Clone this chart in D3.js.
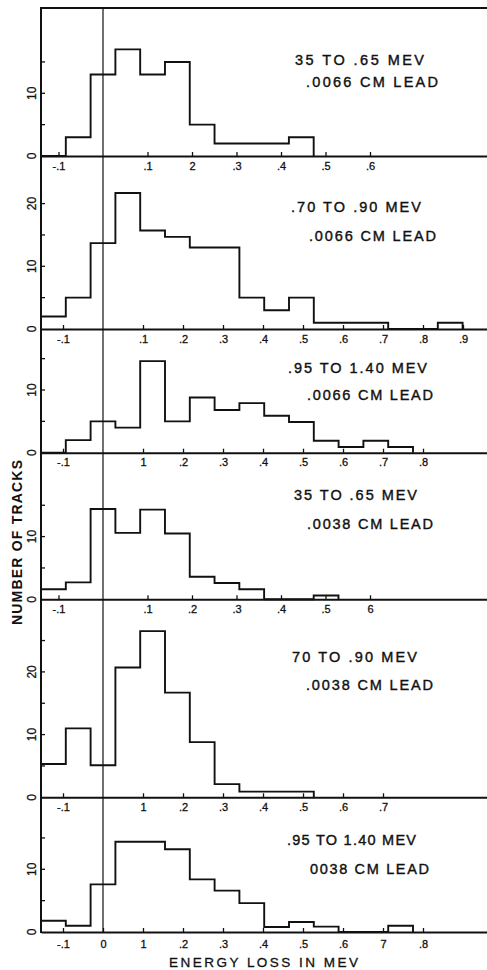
<!DOCTYPE html>
<html>
<head>
<meta charset="utf-8">
<script src="https://cdn.jsdelivr.net/npm/d3@7"></script>
<style>
  html, body { margin: 0; padding: 0; background: #fff; }
  svg { display: block; }
  text { font-family: "Liberation Sans", Arial, sans-serif; fill: #111; }
</style>
</head>
<body>
<div id="chart"></div>
<script>
// ---------------- DATA ----------------
// Bin counts, first bin centred at -2 bin widths; bins are centred on multiples of the bin width (MeV)
const firstBinIndex = -2;
const binWidths = [0.0557, 0.062, 0.062, 0.0557, 0.062, 0.062];

const counts1 = [0, 3, 13, 17, 13, 15, 5, 2, 2, 2, 3];
const counts2 = [2, 5, 13.7, 21.7, 15.7, 14.7, 13, 13, 5, 3, 5, 1, 1, 1, 0, 0, 1];
const counts3 = [0, 2, 5, 4, 14.6, 5, 8.8, 6.8, 7.9, 5.9, 4.9, 1.9, 0.9, 1.9, 0.9];
const counts4 = [1.6, 2.7, 14.4, 10.6, 14.3, 10.5, 3.6, 2.6, 1.6, 0, 0, 0.6];
const counts5 = [5.3, 11, 5.1, 20.7, 26.5, 16.7, 8.8, 2.1, 0.9, 0.9, 0.9];
const counts6 = [1.8, 1, 7.6, 14.4, 14.4, 13.2, 8.4, 6.6, 4.6, 0.8, 1.6, 0.85, 0, 0, 1.0];

const titles1 = ["35 TO .65 MEV", ".0066 CM LEAD"];
const titles2 = [".70 TO .90 MEV", ".0066 CM LEAD"];
const titles3 = [".95 TO 1.40 MEV", ".0066 CM LEAD"];
const titles4 = ["35 TO .65 MEV", ".0038 CM LEAD"];
const titles5 = ["70 TO .90 MEV", ".0038 CM LEAD"];
const titles6 = [".95 TO 1.40 MEV", "0038 CM LEAD"];

const xTicks1 = [-0.1, 0.1, 0.2, 0.3, 0.4, 0.5, 0.6];
const xLabels1 = ["-.1", ".1", "2", ".3", ".4", ".5", ".6"];
const xTicks2 = [-0.1, 0.1, 0.2, 0.3, 0.4, 0.5, 0.6, 0.7, 0.8, 0.9];
const xLabels2 = ["-.1", ".1", ".2", ".3", ".4", ".5", ".6", ".7", ".8", ".9"];
const xTicks3 = [-0.1, 0.1, 0.2, 0.3, 0.4, 0.5, 0.6, 0.7, 0.8];
const xLabels3 = ["-.1", "1", ".2", ".3", ".4", ".5", ".6", ".7", ".8"];
const xTicks4 = [-0.1, 0.1, 0.2, 0.3, 0.4, 0.5, 0.6];
const xLabels4 = ["-.1", ".1", ".2", ".3", ".4", ".5", "6"];
const xTicks5 = [-0.1, 0.1, 0.2, 0.3, 0.4, 0.5, 0.6, 0.7];
const xLabels5 = ["-.1", "1", ".2", ".3", ".4", ".5", ".6", ".7"];
const xTicks6 = [-0.1, 0, 0.1, 0.2, 0.3, 0.4, 0.5, 0.6, 0.7, 0.8];
const xLabels6 = ["-.1", "0", "1", ".2", ".3", ".4", ".5", ".6", "7", ".8"];

const yTicks1 = [0, 5, 10, 15];
const yTicks2 = [0, 5, 10, 15, 20];
const yTicks3 = [0, 5, 10, 15];
const yTicks4 = [0, 5, 10, 15];
const yTicks5 = [0, 5, 10, 15, 20, 25];
const yTicks6 = [0, 5, 10, 15];
const yLabelled = [0, 10, 20];

const xTitle = "ENERGY LOSS IN MEV";
const yTitle = "NUMBER OF TRACKS";

// ---------------- LAYOUT ----------------
const W = 487, H = 970;
const plotLeft = 41, plotRight = 487, plotTop = 8;
const pxPerMeV = [445, 400, 400, 445, 400, 400];
const zeroX = 103;
const baselines = [156, 329, 452.7, 599.3, 797.3, 932];
const pxPerCount = 6.27;
const titlePos = [
  [[295, 65, 129], [306, 87, 132]],
  [[291, 211.5, 130], [309, 240.5, 127]],
  [[288, 372.5, 139], [307, 400, 126]],
  [[294, 500, 123], [307, 528.5, 126]],
  [[292, 662, 125], [306, 690, 127]],
  [[287, 845, 129], [310, 873.5, 119]]
];
const labelPad = [6, 6, 6, 6, 6, 8];

const panels = [
  {counts: counts1, titles: titles1, ticks: xTicks1, labels: xLabels1, yt: yTicks1},
  {counts: counts2, titles: titles2, ticks: xTicks2, labels: xLabels2, yt: yTicks2},
  {counts: counts3, titles: titles3, ticks: xTicks3, labels: xLabels3, yt: yTicks3},
  {counts: counts4, titles: titles4, ticks: xTicks4, labels: xLabels4, yt: yTicks4},
  {counts: counts5, titles: titles5, ticks: xTicks5, labels: xLabels5, yt: yTicks5},
  {counts: counts6, titles: titles6, ticks: xTicks6, labels: xLabels6, yt: yTicks6}
];

const svg = d3.select("#chart").append("svg")
  .attr("width", W).attr("height", H)
  .attr("viewBox", `0 0 ${W} ${H}`);

const ink = "#111";

panels.forEach((p, pi) => {
  const k = pxPerMeV[pi];
  const x = d3.scaleLinear()
    .domain([(plotLeft - zeroX) / k, (plotRight - zeroX) / k])
    .range([plotLeft, plotRight]);
  const b = baselines[pi];
  const y = d3.scaleLinear().domain([0, 30]).range([b, b - 30 * pxPerCount]);
  const w = binWidths[pi];

  // histogram outline
  const pts = [];
  p.counts.forEach((v, i) => {
    const c = (firstBinIndex + i) * w;
    const lo = Math.max(c - w / 2, x.domain()[0]);
    const hi = c + w / 2;
    if (i === 0) pts.push([lo, 0]);
    pts.push([lo, v]);
    pts.push([hi, v]);
    if (i === p.counts.length - 1) pts.push([hi, 0]);
  });
  const line = d3.line().x(d => x(d[0])).y(d => y(d[1]));
  svg.append("path")
    .attr("d", line(pts))
    .attr("fill", "none")
    .attr("stroke", ink)
    .attr("stroke-width", 1.9)
    .attr("stroke-linejoin", "miter");

  // x axis
  const axis = d3.axisBottom(x)
    .tickValues(p.ticks)
    .tickFormat((d, i) => p.labels[i])
    .tickSizeInner(-4)
    .tickSizeOuter(0)
    .tickPadding(labelPad[pi]);
  const g = svg.append("g").attr("transform", `translate(0,${b})`).call(axis);
  g.select(".domain").attr("stroke", ink).attr("stroke-width", 2);
  g.selectAll(".tick line").attr("stroke", ink).attr("stroke-width", 1.3);
  g.selectAll(".tick text")
    .attr("fill", ink)
    .attr("stroke", ink)
    .attr("stroke-width", 0.3)
    .style("font-family", '"Liberation Sans", Arial, sans-serif')
    .style("font-size", "11px");

  // y ticks
  p.yt.forEach(t => {
    if (t > 0) {
      svg.append("line")
        .attr("x1", plotLeft).attr("x2", plotLeft + 4)
        .attr("y1", y(t)).attr("y2", y(t))
        .attr("stroke", ink).attr("stroke-width", 1.3);
    }
    if (yLabelled.includes(t)) {
      svg.append("text")
        .attr("transform", `translate(32,${y(t)}) rotate(-90)`)
        .attr("text-anchor", "middle")
        .attr("dominant-baseline", "central")
        .attr("stroke", ink).attr("stroke-width", 0.3)
        .style("font-size", "12px")
        .text(t);
    }
  });

  // titles
  p.titles.forEach((t, ti) => {
    const [tx, ty, tw] = titlePos[pi][ti];
    svg.append("text")
      .attr("x", tx).attr("y", ty)
      .attr("textLength", tw)
      .attr("lengthAdjust", "spacing")
      .attr("stroke", ink).attr("stroke-width", 0.4)
      .style("font-size", "14.5px")
      .text(t);
  });
});

// frame: top and left
svg.append("line")
  .attr("x1", plotLeft - 1).attr("x2", plotRight).attr("y1", plotTop).attr("y2", plotTop)
  .attr("stroke", ink).attr("stroke-width", 2);
svg.append("line")
  .attr("x1", plotLeft).attr("x2", plotLeft).attr("y1", plotTop).attr("y2", baselines[5] + 1)
  .attr("stroke", ink).attr("stroke-width", 2);
// zero line
svg.append("line")
  .attr("x1", zeroX).attr("x2", zeroX).attr("y1", plotTop).attr("y2", baselines[5])
  .attr("stroke", ink).attr("stroke-width", 1.2);

// axis titles
svg.append("text")
  .attr("x", 169).attr("y", 967)
  .attr("textLength", 189).attr("lengthAdjust", "spacing")
  .attr("stroke", ink).attr("stroke-width", 0.3)
  .style("font-size", "13.5px")
  .text(xTitle);
svg.append("text")
  .attr("transform", "translate(22,625) rotate(-90)")
  .attr("textLength", 165).attr("lengthAdjust", "spacing")
  .style("font-size", "14px")
  .style("font-weight", "bold")
  .text(yTitle);
</script>
</body>
</html>
